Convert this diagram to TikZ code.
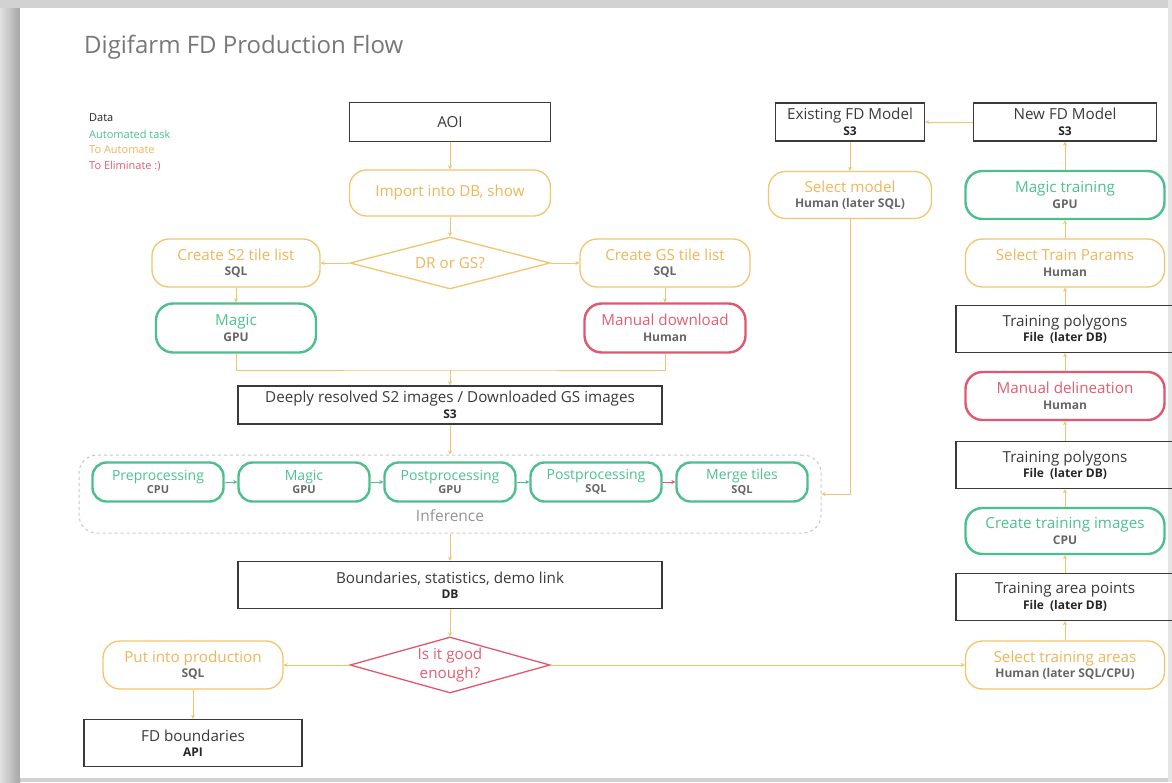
\documentclass[tikz,border=0pt]{standalone}
\usepackage{fontspec}
\setmainfont{Open Sans}
\usetikzlibrary{shapes.geometric,arrows.meta}
\definecolor{orl}{HTML}{F2C46E}
\definecolor{ort}{HTML}{EDB65A}
\definecolor{grl}{HTML}{4DBF8C}
\definecolor{grt}{HTML}{4FC08F}
\definecolor{rdl}{HTML}{E4566D}
\definecolor{rdt}{HTML}{E35D72}
\definecolor{subg}{HTML}{666666}
\definecolor{dat}{HTML}{3A3A3A}
\definecolor{ttl}{HTML}{777777}
\definecolor{bgg}{HTML}{D2D2D2}
\newcommand{\tsub}[1]{\\[-1.5pt]{\fontsize{12}{14}\selectfont\bfseries\color{subg}#1}}
\newcommand{\dsub}[1]{\\[-1.5pt]{\fontsize{12}{14}\selectfont\bfseries\color{black!85}#1}}
\newcommand{\ssub}[1]{\\[-1.5pt]{\fontsize{11}{13}\selectfont\bfseries\color{subg}#1}}
\tikzset{
  base/.style={align=center, inner sep=0pt, font=\fontsize{15.2}{17}\selectfont},
  sz/.style 2 args={minimum width=#1pt, minimum height=#2pt},
  databox/.style={base, draw=dat, line width=1.4pt, text=dat},
  obox/.style={base, draw=orl, line width=1.3pt, rounded corners=17pt, text=ort},
  gbox/.style={base, draw=grl, line width=2.4pt, rounded corners=17pt, text=grt},
  rbox/.style={base, draw=rdl, line width=2.4pt, rounded corners=17pt, text=rdt},
  rowbox/.style={gbox, sz={131}{39}, rounded corners=14pt, font=\fontsize{14}{15}\selectfont},
  odiam/.style={base, diamond, shape aspect=3.8, draw=orl, line width=1.3pt, text=ort},
  rdiam/.style={base, diamond, shape aspect=3.6, draw=rdl, line width=1.3pt, text=rdt},
  arr/.style={draw=orl, line width=1pt, -{Stealth[length=4pt,width=4pt]}},
  ln/.style={draw=orl, line width=1pt},
  garr/.style={draw=grl, line width=1pt, -{Stealth[length=4pt,width=4pt]}},
  rarr/.style={draw=rdl, line width=1pt, -{Stealth[length=4pt,width=4pt]}},
  legend/.style={anchor=west, inner sep=0pt, font=\fontsize{11}{12}\selectfont},
}
\begin{document}
\begin{tikzpicture}[x=1pt,y=-1pt]
\useasboundingbox (0,0) rectangle (1172,782);
% screenshot frame
\fill[bgg] (0,0) rectangle (1172,782);
\shade[left color=black!12, right color=black!35] (0,8) rectangle (20,782);
\fill[black!10] (1168,0) rectangle (1172,782);
\fill[white] (20,8) rectangle (1168,778);
% title and legend
\node[anchor=west, inner sep=0pt, text=ttl, font=\fontsize{24}{28}\selectfont] (title) at (84,47.5) {Digifarm FD Production Flow};
\node[legend, text=black!85] (lg1) at (89,118) {Data};
\node[legend, text=grt] (lg2) at (89,134) {Automated task};
\node[legend, text=ort] (lg3) at (89,150) {To Automate};
\node[legend, text=rdt] (lg4) at (89,166) {To Eliminate :)};
% left / centre column
\node[databox, sz={201}{39}] (aoi) at (450,122) {AOI};
\node[obox, sz={201}{46}] (imp) at (450,193) {Import into DB, show};
\node[odiam, minimum width=200pt, minimum height=52pt] (dr) at (450,263) {DR or GS?};
\node[obox, sz={168}{48}] (s2) at (236,263) {Create S2 tile list\tsub{SQL}};
\node[obox, sz={170}{48}] (gs) at (665,263) {Create GS tile list\tsub{SQL}};
\node[gbox, sz={160}{49}] (mg1) at (236,328) {Magic\tsub{GPU}};
\node[rbox, sz={161}{49}] (mdl) at (665,328) {Manual download\tsub{Human}};
\node[databox, sz={424}{38}] (deep) at (450,405) {Deeply resolved S2 images / Downloaded GS images\dsub{S3}};
% inference
\node[draw=black!22, dashed, line width=1pt, rounded corners=18pt, minimum width=742pt, minimum height=78pt, inner sep=0pt] (inf) at (450,494) {};
\node[inner sep=0pt, text=black!42, font=\fontsize{15.5}{17}\selectfont] (inflbl) at (450,516) {Inference};
\node[rowbox] (pre) at (158,482) {Preprocessing\ssub{CPU}};
\node[rowbox] (mg2) at (304,482) {Magic\ssub{GPU}};
\node[rowbox] (pp1) at (450,482) {Postprocessing\ssub{GPU}};
\node[rowbox] (pp2) at (596,482) {Postprocessing\ssub{SQL}};
\node[rowbox] (mrg) at (742,482) {Merge tiles\ssub{SQL}};
\node[databox, sz={424}{47}] (bnd) at (450,585) {Boundaries, statistics, demo link\dsub{DB}};
\node[rdiam, minimum width=200pt, minimum height=56pt] (good) at (450,665) {Is it good\\[2pt]enough?};
\node[obox, sz={180}{48}] (prod) at (193,665) {Put into production\tsub{SQL}};
\node[databox, sz={218}{47}] (fdb) at (193,743) {FD boundaries\dsub{API}};
% right column
\node[databox, sz={149}{38}] (efd) at (850,122) {Existing FD Model\dsub{S3}};
\node[obox, sz={163}{47}] (selm) at (850,195) {Select model\tsub{Human (later SQL)}};
\node[databox, sz={183}{38}] (nfd) at (1065,122) {New FD Model\dsub{S3}};
\node[gbox, sz={199}{48}] (mtr) at (1065,195) {Magic training\tsub{GPU}};
\node[obox, sz={199}{48}] (stp) at (1065,263) {Select Train Params\tsub{Human}};
\node[databox, sz={218}{47}] (tp2) at (1065,329) {Training polygons\dsub{File\enspace(later DB)}};
\node[rbox, sz={199}{48}] (mand) at (1065,396) {Manual delineation\tsub{Human}};
\node[databox, sz={218}{47}] (tp1) at (1065,465) {Training polygons\dsub{File\enspace(later DB)}};
\node[gbox, sz={199}{46}] (cti) at (1065,531) {Create training images\tsub{CPU}};
\node[databox, sz={218}{47}] (tap) at (1065,597) {Training area points\dsub{File\enspace(later DB)}};
\node[obox, sz={199}{48}] (sta) at (1065,665) {Select training areas\tsub{Human (later SQL/CPU)}};
% connectors
\draw[arr] (aoi) -- (imp);
\draw[arr] (imp) -- (dr);
\draw[arr] (dr.west) -- (s2.east);
\draw[arr] (dr.east) -- (gs.west);
\draw[arr] (s2) -- (mg1);
\draw[arr] (gs) -- (mdl);
\coordinate (jn) at (450,370);
\draw[ln] (mg1.south) |- (jn) -| (mdl.south);
\draw[arr] (jn) -- (deep.north);
\draw[arr] (deep.south) -- (inf.north);
\draw[garr] (pre) -- (mg2);
\draw[garr] (mg2) -- (pp1);
\draw[garr] (pp1) -- (pp2);
\draw[rarr] (pp2) -- (mrg);
\draw[arr] (selm.south) |- (inf.east);
\draw[arr] (inf.south) -- (bnd.north);
\draw[arr] (bnd) -- (good);
\draw[arr] (good.west) -- (prod.east);
\draw[arr] (good.east) -- (sta.west);
\draw[arr] (prod) -- (fdb);
\draw[arr] (sta) -- (tap);
\draw[arr] (tap) -- (cti);
\draw[arr] (cti) -- (tp1);
\draw[arr] (tp1) -- (mand);
\draw[arr] (mand) -- (tp2);
\draw[arr] (tp2) -- (stp);
\draw[arr] (stp) -- (mtr);
\draw[arr] (mtr) -- (nfd);
\draw[arr] (nfd) -- (efd);
\draw[arr] (efd) -- (selm);
\end{tikzpicture}
\end{document}
